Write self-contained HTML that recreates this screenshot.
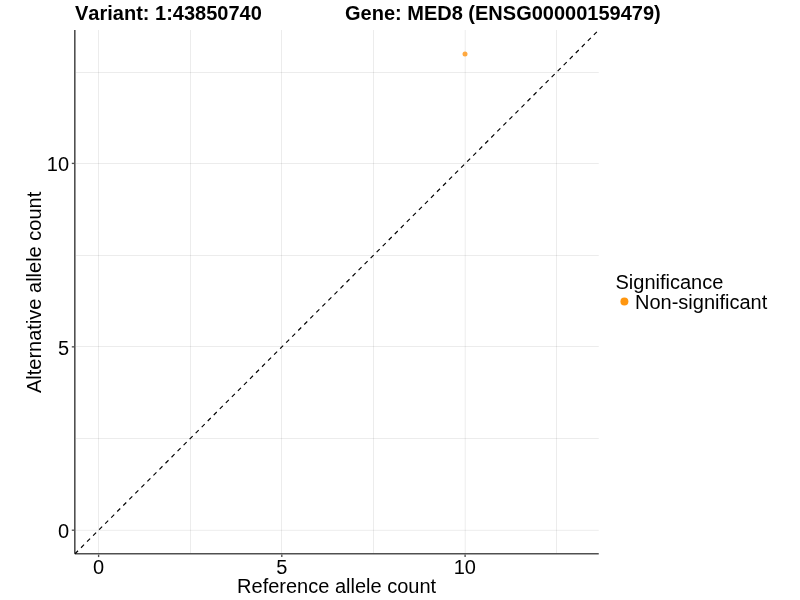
<!DOCTYPE html>
<html>
<head>
<meta charset="utf-8">
<title>Allele count plot</title>
<style>
html,body{margin:0;padding:0;background:#fff;}
body{width:800px;height:600px;overflow:hidden;}
svg{display:block;}
text{font-kerning:none;font-family:"Liberation Sans",Arial,Helvetica,sans-serif;fill:#000;}
.title{font-weight:bold;font-size:20px;}
.tick{font-size:20px;}
.axlab{font-size:20px;}
.leg{font-size:20px;}
.grid line{stroke:#000;stroke-opacity:0.075;stroke-width:1;}
</style>
</head>
<body>
<svg width="800" height="600" viewBox="0 0 800 600">
<rect x="0" y="0" width="800" height="600" fill="#ffffff"/>
<g class="grid">
<line x1="98.5" y1="30" x2="98.5" y2="553"/>
<line x1="190.5" y1="30" x2="190.5" y2="553"/>
<line x1="281.5" y1="30" x2="281.5" y2="553"/>
<line x1="373.5" y1="30" x2="373.5" y2="553"/>
<line x1="465.2" y1="30" x2="465.2" y2="553"/>
<line x1="556.5" y1="30" x2="556.5" y2="553"/>
<line x1="76" y1="530.3" x2="598.75" y2="530.3"/>
<line x1="76" y1="438.5" x2="598.75" y2="438.5"/>
<line x1="76" y1="346.5" x2="598.75" y2="346.5"/>
<line x1="76" y1="255.5" x2="598.75" y2="255.5"/>
<line x1="76" y1="163.5" x2="598.75" y2="163.5"/>
<line x1="76" y1="72.5" x2="598.75" y2="72.5"/>
</g>
<circle cx="465" cy="53.9" r="2.5" fill="#ff9a1f" fill-opacity="0.85"/>
<g stroke="#505050" stroke-width="1.6" fill="none">
<line x1="74.8" y1="30" x2="74.8" y2="553.8"/>
<line x1="74.8" y1="553.8" x2="598.75" y2="553.8"/>
</g>
<g stroke="#505050" stroke-width="1.35">
<line x1="71.8" y1="530.2" x2="74.4" y2="530.2"/>
<line x1="71.8" y1="346.85" x2="74.4" y2="346.85"/>
<line x1="71.8" y1="163.4" x2="74.4" y2="163.4"/>
<line x1="98.6" y1="554.6" x2="98.6" y2="557.1"/>
<line x1="281.8" y1="554.6" x2="281.8" y2="557.1"/>
<line x1="465.1" y1="554.6" x2="465.1" y2="557.1"/>
</g>
<line x1="75" y1="553.75" x2="598.75" y2="30" stroke="#000" stroke-width="1.16" stroke-dasharray="4.266 4.266"/>
<text class="title" x="75" y="20.3">Variant: 1:43850740</text>
<text class="title" x="345" y="20.3">Gene: MED8 (ENSG00000159479)</text>
<g class="tick" text-anchor="end">
<text x="69.1" y="538">0</text>
<text x="69.1" y="354.7">5</text>
<text x="69.1" y="170.7">10</text>
</g>
<g class="tick" text-anchor="middle">
<text x="98.5" y="573.8">0</text>
<text x="281.7" y="573.8">5</text>
<text x="464.8" y="573.8">10</text>
</g>
<text class="axlab" x="336.6" y="593.2" text-anchor="middle">Reference allele count</text>
<text class="axlab" transform="translate(41,292.4) rotate(-90)" text-anchor="middle">Alternative allele count</text>
<text class="leg" x="615.5" y="288.6">Significance</text>
<circle cx="624.4" cy="301.4" r="4" fill="#ff960f"/>
<text class="leg" x="635" y="308.9">Non-significant</text>
</svg>
</body>
</html>
